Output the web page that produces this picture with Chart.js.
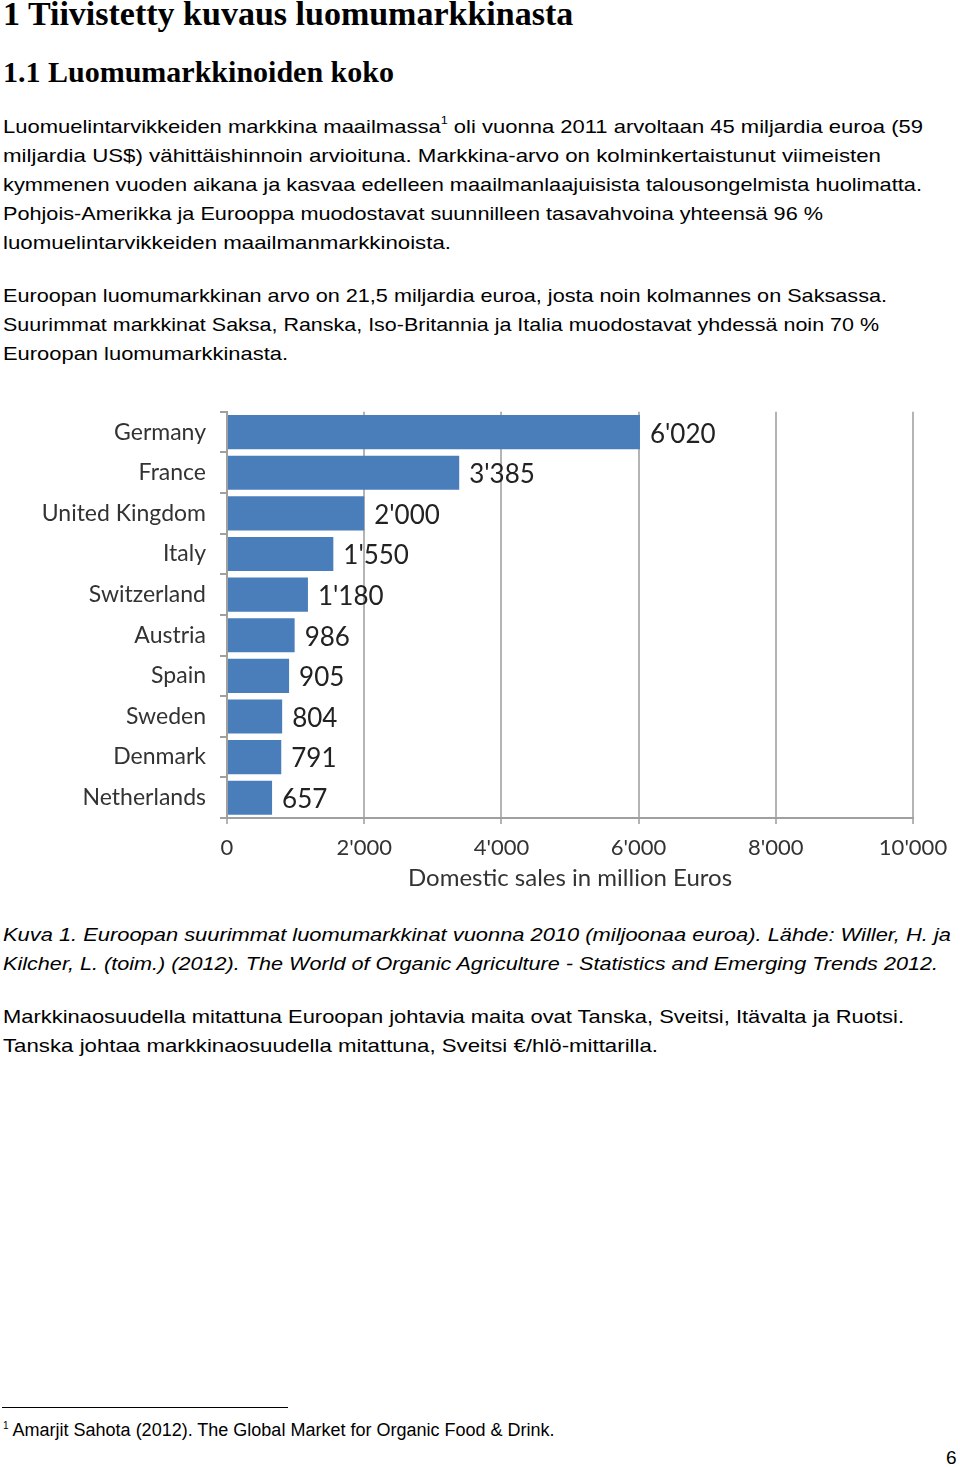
<!DOCTYPE html>
<html>
<head>
<meta charset="utf-8">
<script src="https://cdn.jsdelivr.net/npm/chart.js@4"></script>
<style>
  html, body { margin: 0; padding: 0; background: #fff; }
  body { width: 960px; height: 1467px; position: relative; overflow: hidden; color: #000; }
  .h1, .h2 { position: absolute; left: 3px; font-family: "Liberation Serif", serif; font-weight: bold; white-space: nowrap; }
  .h1 { top: -5px; font-size: 34px; line-height: 38px; }
  .h2 { top: 54px; font-size: 30px; line-height: 36px; }
  .ln { position: absolute; left: 3px; font-family: "Liberation Sans", Arial, sans-serif; font-size: 19px; line-height: 28px; white-space: nowrap; transform-origin: 0 50%; }
  .ln sup { font-size: 11px; vertical-align: 9px; line-height: 0; }
  .it { font-style: italic; }
  #chartBox { position: absolute; left: 0; top: 384px; width: 960px; height: 509px; }
  .fnline { position: absolute; left: 2px; top: 1407px; width: 286px; height: 1px; background: #000; }
  .fn { position: absolute; left: 3px; top: 1419px; font-family: "Liberation Sans", Arial, sans-serif; font-size: 18px; line-height: 22px; white-space: nowrap; }
  .fn sup { font-size: 10px; vertical-align: 7px; line-height: 0; }
  .pg { position: absolute; left: 946px; top: 1447px; font-family: "Liberation Sans", Arial, sans-serif; font-size: 19px; line-height: 22px; }
</style>
</head>
<body>
<div class="h1">1 Tiivistetty kuvaus luomumarkkinasta</div>
<div class="h2">1.1 Luomumarkkinoiden koko</div>

<div class="ln" style="top:113px" data-w="920">Luomuelintarvikkeiden markkina maailmassa<sup>1</sup> oli vuonna 2011 arvoltaan 45 miljardia euroa (59</div>
<div class="ln" style="top:142px" data-w="878">miljardia US$) vähittäishinnoin arvioituna. Markkina-arvo on kolminkertaistunut viimeisten</div>
<div class="ln" style="top:171px" data-w="919">kymmenen vuoden aikana ja kasvaa edelleen maailmanlaajuisista talousongelmista huolimatta.</div>
<div class="ln" style="top:200px" data-w="820">Pohjois-Amerikka ja Eurooppa muodostavat suunnilleen tasavahvoina yhteensä 96 %</div>
<div class="ln" style="top:229px" data-w="448">luomuelintarvikkeiden maailmanmarkkinoista.</div>

<div class="ln" style="top:282px" data-w="884">Euroopan luomumarkkinan arvo on 21,5 miljardia euroa, josta noin kolmannes on Saksassa.</div>
<div class="ln" style="top:311px" data-w="876">Suurimmat markkinat Saksa, Ranska, Iso-Britannia ja Italia muodostavat yhdessä noin 70 %</div>
<div class="ln" style="top:340px" data-w="285">Euroopan luomumarkkinasta.</div>

<div id="chartBox"><canvas id="salesChart" width="960" height="509"></canvas></div>

<div class="ln it" style="top:921px" data-w="948">Kuva 1. Euroopan suurimmat luomumarkkinat vuonna 2010 (miljoonaa euroa). Lähde: Willer, H. ja</div>
<div class="ln it" style="top:950px" data-w="935">Kilcher, L. (toim.) (2012). The World of Organic Agriculture - Statistics and Emerging Trends 2012.</div>

<div class="ln" style="top:1003px" data-w="901">Markkinaosuudella mitattuna Euroopan johtavia maita ovat Tanska, Sveitsi, Itävalta ja Ruotsi.</div>
<div class="ln" style="top:1032px" data-w="655">Tanska johtaa markkinaosuudella mitattuna, Sveitsi €/hlö-mittarilla.</div>

<div class="fnline"></div>
<div class="fn"><sup>1</sup> Amarjit Sahota (2012). The Global Market for Organic Food &amp; Drink.</div>
<div class="pg">6</div>

<script>
// Maat ja myynti (milj. euroa), 2010
const countries = ["Germany", "France", "United Kingdom", "Italy", "Switzerland", "Austria", "Spain", "Sweden", "Denmark", "Netherlands"]
const sales = [6020, 3385, 2000, 1550, 1180, 986, 905, 804, 791, 657]
const xTicks = [0, 2000, 4000, 6000, 8000, 10000]
const xTitle = "Domestic sales in million Euros"

// squeeze text lines to the page width
document.querySelectorAll('.ln').forEach(el => {
    const target = +el.dataset.w
    const w = el.getBoundingClientRect().width
    if (w > 0) el.style.transform = `scaleX(${target / w})`
})

const fmt = v => String(v).replace(/\B(?=(\d{3})+(?!\d))/g, "'")

const chartFont = 'Lato, "Open Sans", sans-serif'

// arvot palkkien perään
const barLabels = {
    id: 'barLabels',
    afterDatasetsDraw(chart) {
        const ctx = chart.ctx
        const meta = chart.getDatasetMeta(0)
        ctx.save()
        ctx.font = '26px ' + chartFont
        ctx.fillStyle = '#222'
        ctx.textBaseline = 'middle'
        meta.data.forEach((bar, i) => {
            ctx.fillText(fmt(sales[i]), bar.x + 10, bar.y + 2)
        })
        ctx.restore()
    }
}

const config = {
    type: 'bar',
    data: {
        labels: countries,
        datasets: [{
            data: sales,
            backgroundColor: '#4a7ebb',
            borderWidth: 0,
            barPercentage: 0.84,
            categoryPercentage: 1
        }]
    },
    options: {
        indexAxis: 'y',
        responsive: false,
        animation: false,
        layout: { padding: { top: 12, right: 47, bottom: 0, left: 0 } },
        plugins: { legend: { display: false }, tooltip: { enabled: false } },
        scales: {
            x: {
                min: 0,
                max: 10000,
                afterBuildTicks: axis => { axis.ticks = xTicks.map(v => ({ value: v })) },
                afterFit: axis => { axis.height = 75 },
                ticks: {
                    callback: v => fmt(v),
                    font: { family: chartFont, size: 22 },
                    color: '#333',
                    padding: 11,
                    maxRotation: 0
                },
                grid: { color: '#b4b4b4', lineWidth: 2, tickLength: 6 },
                border: { color: '#a0a0a0', width: 2 },
                title: {
                    display: true,
                    text: xTitle,
                    font: { family: chartFont, size: 24 },
                    color: '#333',
                    padding: { top: 4, bottom: 0 }
                }
            },
            y: {
                afterFit: axis => { axis.width = 227 },
                ticks: {
                    font: { family: chartFont, size: 23 },
                    color: '#333',
                    padding: 14
                },
                grid: { drawOnChartArea: false, color: '#a0a0a0', lineWidth: 2, tickLength: 7, offset: true },
                border: { color: '#a0a0a0', width: 2 }
            }
        }
    },
    plugins: [barLabels]
}

new Chart(document.getElementById('salesChart'), config)
</script>
</body>
</html>
